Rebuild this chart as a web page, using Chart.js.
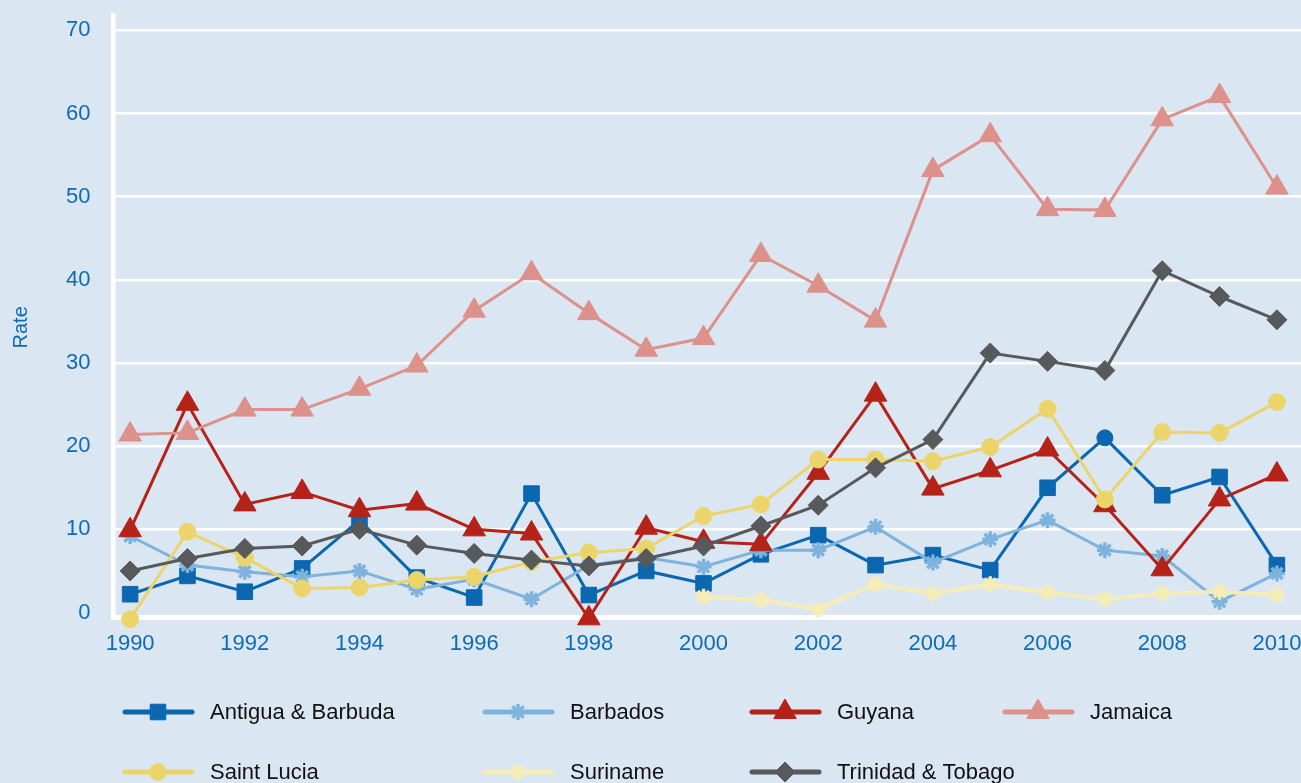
<!DOCTYPE html>
<html>
<head>
<meta charset="utf-8">
<title>Rate</title>
<script src="https://cdn.jsdelivr.net/npm/chart.js@4.4.1/dist/chart.umd.min.js"></script>
<style>
    html, body { margin: 0; padding: 0; background: #dae6f2; overflow: hidden; }
    #wrap { width: 1301px; height: 783px; }
</style>
</head>
<body>
<div id="wrap"><canvas id="rateChart" width="1301" height="783"></canvas></div>
<script>
/* Data */
const years = [1990, 1991, 1992, 1993, 1994, 1995, 1996, 1997, 1998, 1999, 2000,
               2001, 2002, 2003, 2004, 2005, 2006, 2007, 2008, 2009, 2010];

const antigua    = [2.2, 4.4, 2.5, 5.3, 11.1, 4.2, 1.8, 14.3, 2.1, 5.0, 3.5, 7.0, 9.3, 5.7, 6.9, 5.1, 15.0, 21.0, 14.1, 16.3, 5.7];
const barbados   = [9.2, 5.7, 4.9, 4.3, 5.0, 2.8, 4.0, 1.6, 5.7, 6.6, 5.5, 7.5, 7.5, 10.3, 6.0, 8.8, 11.1, 7.5, 6.8, 1.3, 4.7];
const guyana     = [9.9, 25.1, 13.0, 14.5, 12.3, 13.1, 10.0, 9.5, -0.7, 10.2, 8.5, 8.2, 16.8, 26.2, 14.9, 17.1, 19.6, 12.9, 5.2, 13.6, 16.6];
const jamaica    = [21.4, 21.6, 24.4, 24.4, 26.9, 29.7, 36.3, 40.8, 36.0, 31.6, 33.0, 43.0, 39.3, 35.1, 53.2, 57.4, 48.5, 48.4, 59.3, 62.1, 51.1];
const saintLucia = [-0.8, 9.7, 6.6, 2.9, 3.0, 3.9, 4.3, 6.1, 7.2, 7.7, 11.6, 13.0, 18.4, 18.4, 18.2, 19.9, 24.5, 13.6, 21.7, 21.6, 25.3];
const suriname   = [null, null, null, null, null, null, null, null, null, null, 1.9, 1.5, 0.4, 3.4, 2.3, 3.4, 2.4, 1.6, 2.3, 2.5, 2.1];
const trinidad   = [5.0, 6.5, 7.7, 8.0, 10.0, 8.1, 7.1, 6.3, 5.6, 6.5, 8.0, 10.4, 12.9, 17.4, 20.8, 31.2, 30.2, 29.1, 41.1, 38.0, 35.2];

const seriesNames = ["Antigua & Barbuda", "Barbados", "Guyana", "Jamaica", "Saint Lucia", "Suriname", "Trinidad & Tobago"];
const seriesValues = [antigua, barbados, guyana, jamaica, saintLucia, suriname, trinidad];

const xTickLabels = [1990, 1992, 1994, 1996, 1998, 2000, 2002, 2004, 2006, 2008, 2010];
const yTickLabels = [0, 10, 20, 30, 40, 50, 60, 70];

/* Styles */
const seriesColors = ["#0a67b0", "#7db3dc", "#b52218", "#dc918a", "#ebd56b", "#f5ecb6", "#58595b"];
const seriesMarkers = ["rect", "star", "triangle", "triangle", "circle", "star", "rectRot"];
const markerRadius = [11, 8, 13, 13, 8.5, 8, 10];
const markerBorder = [1, 3.5, 1, 1, 1, 3.5, 1];
const lineWidths = [3, 3, 3, 3, 3, 4, 3];

const tickColor = "#0e6cb5";
const baseFont = '"Liberation Sans", Arial, sans-serif';

// legend grid (the reference lays it out in fixed columns)
const legendColumns = [125, 485, 752, 1005];
const legendRows = [712, 772];

const gridLegend = {
    id: "gridLegend",
    afterDraw(chart) {
        const ctx = chart.ctx;
        chart.data.datasets.forEach((ds, i) => {
            const x0 = legendColumns[i % 4];
            const y = legendRows[Math.floor(i / 4)];
            ctx.save();
            ctx.strokeStyle = ds.borderColor;
            ctx.lineWidth = 5;
            ctx.lineCap = "round";
            ctx.beginPath();
            ctx.moveTo(x0, y);
            ctx.lineTo(x0 + 67, y);
            ctx.stroke();

            ctx.fillStyle = ds.borderColor;
            ctx.lineWidth = markerBorder[i];
            ctx.lineCap = "butt";
            if (Chart.helpers && Chart.helpers.drawPoint) {
                Chart.helpers.drawPoint(ctx, {
                    pointStyle: seriesMarkers[i],
                    radius: markerRadius[i],
                    borderWidth: markerBorder[i],
                    rotation: 0
                }, x0 + 33, y);
            }

            ctx.fillStyle = "#111111";
            ctx.font = "22px " + baseFont;
            ctx.textBaseline = "middle";
            ctx.textAlign = "left";
            ctx.fillText(ds.label, x0 + 85, y + 1);
            ctx.restore();
        });
    }
};

const datasets = seriesNames.map((name, i) => ({
    label: name,
    data: years.map((yr, j) => ({ x: yr, y: seriesValues[i][j] })),
    borderColor: seriesColors[i],
    backgroundColor: seriesColors[i],
    pointBackgroundColor: seriesColors[i],
    pointBorderColor: seriesColors[i],
    borderWidth: lineWidths[i],
    // the 2007 Antigua marker is a circle in the reference
    pointRadius: i === 0
        ? (ctx) => (ctx.dataIndex === 17 ? 8 : markerRadius[0])
        : markerRadius[i],
    pointBorderWidth: markerBorder[i],
    pointStyle: i === 0
        ? (ctx) => (ctx.dataIndex === 17 ? "circle" : "rect")
        : seriesMarkers[i],
    tension: 0,
    spanGaps: false,
    clip: false,
    order: seriesNames.length - i
}));

new Chart(document.getElementById("rateChart"), {
    type: "line",
    data: { datasets: datasets },
    options: {
        responsive: false,
        animation: false,
        layout: {
            autoPadding: false,
            padding: { top: 15, left: 0, right: 0, bottom: 125.5 }
        },
        plugins: {
            legend: { display: false },
            tooltip: { enabled: false },
            title: { display: false }
        },
        scales: {
            x: {
                type: "linear",
                min: 1989.71,
                max: 2010.42,
                afterBuildTicks: (scale) => {
                    scale.ticks = xTickLabels.map(v => ({ value: v }));
                },
                afterFit: (scale) => {
                    scale.paddingLeft = 0;
                    scale.paddingRight = 0;
                    scale.height = 40;
                },
                grid: { display: true, color: "transparent", drawTicks: false },
                border: { display: true, color: "#ffffff", width: 5 },
                ticks: {
                    color: tickColor,
                    padding: 13,
                    maxRotation: 0,
                    autoSkip: false,
                    font: { size: 22, family: baseFont },
                    callback: (v) => String(v)
                }
            },
            y: {
                type: "linear",
                min: -0.6,
                max: 71.85,
                afterBuildTicks: (scale) => {
                    scale.ticks = yTickLabels.map(v => ({ value: v }));
                },
                afterFit: (scale) => {
                    scale.width = 113.5;
                    scale.paddingTop = 0;
                    scale.paddingBottom = 0;
                },
                grid: {
                    color: (ctx) => (ctx.tick && ctx.tick.value === 0 ? "transparent" : "#ffffff"),
                    lineWidth: 2.5,
                    drawTicks: false
                },
                border: { display: true, color: "#ffffff", width: 4.5 },
                ticks: {
                    color: tickColor,
                    padding: 23,
                    font: { size: 22, family: baseFont },
                    callback: (v) => String(v)
                },
                title: {
                    display: true,
                    text: "Rate    ",
                    color: tickColor,
                    font: { size: 20, family: baseFont },
                    padding: { top: 9, bottom: 0 }
                }
            }
        }
    },
    plugins: [gridLegend]
});
</script>
</body>
</html>
